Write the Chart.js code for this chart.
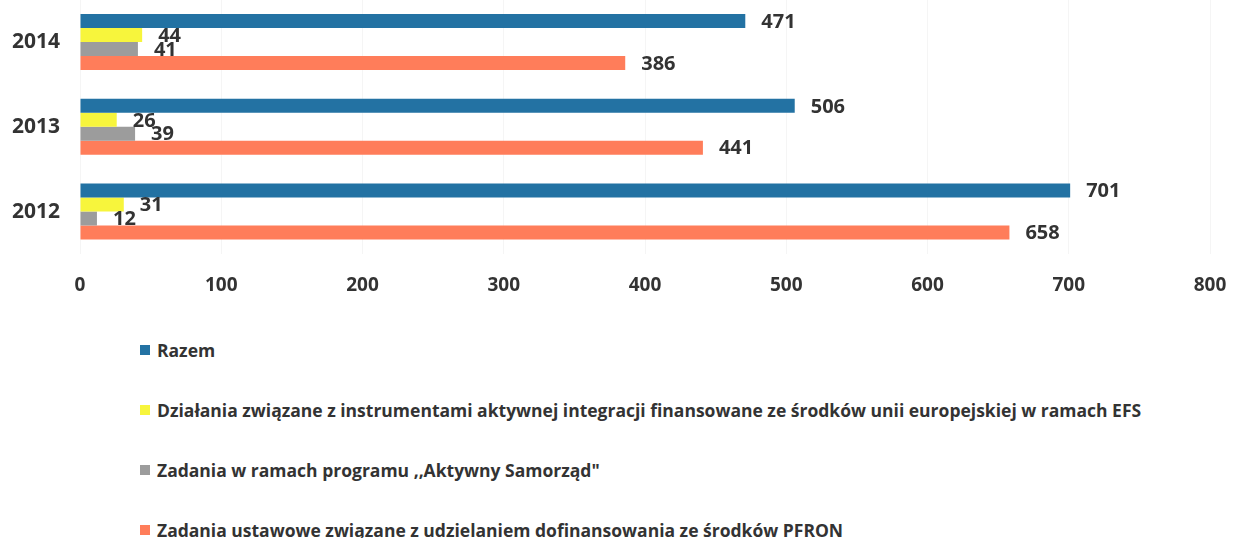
<!DOCTYPE html>
<html>
<head>
<meta charset="utf-8">
<script src="https://cdn.jsdelivr.net/npm/chart.js@4/dist/chart.umd.min.js"></script>
<style>
    body { margin: 0; background: #fff; overflow: hidden; }
    #wrap { position: relative; width: 1236px; height: 538px; overflow: hidden; }
    #chart { position: absolute; left: 0; top: 0; }
    #legend { position: absolute; left: 140px; top: 320px; font: bold 17.5px "Open Sans", sans-serif; color: #333; }
    #legend .item { height: 60px; display: flex; align-items: center; white-space: nowrap; }
    #legend .box { width: 10px; height: 10px; margin-right: 7px; display: inline-block; }
</style>
</head>
<body>
<div id="wrap">
    <canvas id="chart" width="1236" height="313"></canvas>
    <div id="legend"></div>
</div>
<script>
// Data
const years = ['2014', '2013', '2012'];
const razem = [471, 506, 701];
const efs = [44, 26, 31];
const aktywnySamorzad = [41, 39, 12];
const pfron = [386, 441, 658];
const xTicks = [0, 100, 200, 300, 400, 500, 600, 700, 800];

const textColor = '#333333';
const fontFamily = '"Open Sans", sans-serif';

// Value labels to the right of each bar
const valueLabels = {
    id: 'valueLabels',
    afterDatasetsDraw(chart) {
        const ctx = chart.ctx;
        ctx.save();
        ctx.font = 'bold 20px ' + fontFamily;
        ctx.fillStyle = textColor;
        ctx.textAlign = 'left';
        ctx.textBaseline = 'middle';
        chart.data.datasets.forEach((ds, i) => {
            chart.getDatasetMeta(i).data.forEach((bar, j) => {
                ctx.fillText(ds.data[j], bar.x + 16, bar.y + 1);
            });
        });
        ctx.restore();
    }
};

// HTML legend, one item per line
const htmlLegend = {
    id: 'htmlLegend',
    afterUpdate(chart) {
        const box = document.getElementById('legend');
        box.innerHTML = '';
        chart.options.plugins.legend.labels.generateLabels(chart).forEach(item => {
            const row = document.createElement('div');
            row.className = 'item';
            const sw = document.createElement('span');
            sw.className = 'box';
            sw.style.background = item.fillStyle;
            row.appendChild(sw);
            row.appendChild(document.createTextNode(item.text));
            box.appendChild(row);
        });
    }
};

const canvas = document.getElementById('chart');
const chart = new Chart(canvas.getContext('2d'), {
    type: 'bar',
    data: {
        labels: years,
        datasets: [
            { label: 'Razem', data: razem, backgroundColor: '#2372a3' },
            { label: 'Działania związane z instrumentami aktywnej integracji finansowane ze środków unii europejskiej w ramach EFS', data: efs, backgroundColor: '#f7f53c' },
            { label: 'Zadania w ramach programu ,,Aktywny Samorząd"', data: aktywnySamorzad, backgroundColor: '#9c9c9c' },
            { label: 'Zadania ustawowe związane z udzielaniem dofinansowania ze środków PFRON', data: pfron, backgroundColor: '#ff7d5a' }
        ]
    },
    options: {
        indexAxis: 'y',
        responsive: false,
        animation: false,
        devicePixelRatio: 1,
        layout: { padding: { left: 0, right: 26, top: 0, bottom: 0 } },
        datasets: {
            bar: { barPercentage: 1, categoryPercentage: 0.66 }
        },
        plugins: {
            legend: { display: false },
            tooltip: { enabled: false }
        },
        scales: {
            x: {
                min: 0,
                max: 800,
                afterBuildTicks: scale => { scale.ticks = xTicks.map(v => ({ value: v })); },
                afterFit: scale => { scale.height = 46; },
                grid: { color: 'rgba(0,0,0,0.04)', drawTicks: true, tickLength: 20, tickColor: 'transparent' },
                border: { display: false },
                ticks: { padding: 0, color: textColor, font: { family: fontFamily, size: 19, weight: 'bold' } }
            },
            y: {
                afterFit: scale => { scale.width = 80; },
                grid: { display: false, drawTicks: true, tickLength: 20 },
                border: { display: false },
                ticks: { padding: 0, color: textColor, font: { family: fontFamily, size: 21, weight: 'bold' } }
            }
        }
    },
    plugins: [valueLabels, htmlLegend]
});

// line the plot area up with the top of the page
canvas.style.top = (-chart.chartArea.top) + 'px';
</script>
</body>
</html>
